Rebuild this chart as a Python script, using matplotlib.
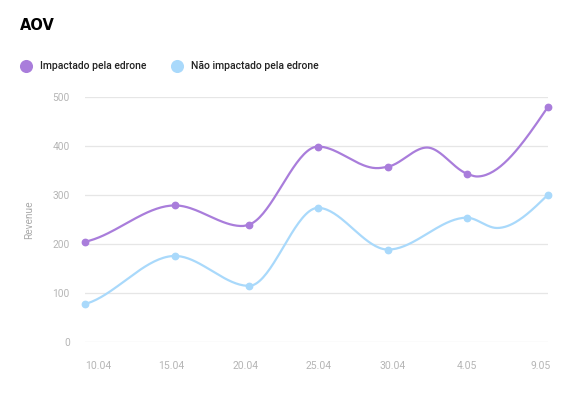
"""AOV — impactado vs. não impactado pela edrone (linhas suavizadas)."""
import matplotlib
matplotlib.use("Agg")
import matplotlib.pyplot as plt
import numpy as np
from matplotlib.lines import Line2D

# Posição dos marcadores no eixo (unidades de rótulo) e valores
posicoes = [-0.176, 1.045, 2.049, 2.985, 3.935, 5.003, 6.106]
impactado = [205, 279, 240, 399, 358, 344, 480]
nao_impactado = [78, 176, 115, 274, 189, 254, 301]

# Pontos de apoio da curva (extremos sem marcador)
apoio_imp_pos = [1.954, 3.786, 4.464, 5.143]
apoio_imp_val = [237, 355, 397, 338]
apoio_nao_pos = [5.414]
apoio_nao_val = [233]

rotulos_x = ["10.04", "15.04", "20.04", "25.04", "30.04", "4.05", "9.05"]
ticks_y = [0, 100, 200, 300, 400, 500]

ROXO = "#a97ddb"
AZUL = "#a9d9fb"
CINZA_TXT = "#b5b5b5"

plt.rcParams["font.family"] = ["Roboto", "DejaVu Sans"]


def suave(xs, ys, n=40):
    """Hermite cúbica monótona (Fritsch-Carlson) com extremos suaves."""
    ordem = np.argsort(xs)
    x = np.asarray(xs, float)[ordem]
    y = np.asarray(ys, float)[ordem]
    h = np.diff(x)
    d = np.diff(y) / h
    m = np.zeros_like(y)
    for i in range(1, len(y) - 1):
        if d[i - 1] * d[i] > 0:
            w1, w2 = 2 * h[i] + h[i - 1], h[i] + 2 * h[i - 1]
            m[i] = (w1 + w2) / (w1 / d[i - 1] + w2 / d[i])
    m[0] = 0.5 * d[0]
    m[-1] = (3 * d[-1] - m[-2]) / 2
    px, py = [], []
    t = np.linspace(0, 1, n)
    for i in range(len(h)):
        h00 = 2 * t**3 - 3 * t**2 + 1
        h10 = t**3 - 2 * t**2 + t
        h01 = -2 * t**3 + 3 * t**2
        h11 = t**3 - t**2
        px.append(x[i] + t * h[i])
        py.append(h00 * y[i] + h10 * h[i] * m[i] + h01 * y[i + 1] + h11 * h[i] * m[i + 1])
    return np.concatenate(px), np.concatenate(py)


fig = plt.figure(figsize=(5.73, 3.98), dpi=100)
ax = fig.add_axes([85 / 573, 1 - 342.3 / 398, 463 / 573, 245.3 / 398])

series = [
    (nao_impactado, apoio_nao_pos, apoio_nao_val, AZUL),
    (impactado, apoio_imp_pos, apoio_imp_val, ROXO),
]
for ys, ap_x, ap_y, cor in series:
    cx, cy = suave(posicoes + ap_x, ys + ap_y)
    ax.plot(cx, cy, color=cor, lw=1.6, solid_capstyle="round", clip_on=False, zorder=3)
    ax.plot(posicoes, ys, "o", color=cor, ms=4.6, clip_on=False, zorder=4)

ax.set_xlim(posicoes[0], posicoes[-1])
ax.set_ylim(0, 500)
ax.set_yticks(ticks_y)
ax.set_xticks(range(len(rotulos_x)))
ax.set_xticklabels(rotulos_x)
ax.grid(axis="y", color="#e6e6e6", lw=0.9)
ax.set_axisbelow(True)
for s in ax.spines.values():
    s.set_visible(False)
ax.tick_params(length=0, colors=CINZA_TXT, labelsize=7.3)
ax.tick_params(axis="x", labelsize=7.5, pad=13.5)
ax.tick_params(axis="y", pad=11)
ax.set_ylabel("Revenue", color="#aaaaaa", fontsize=7.3, labelpad=13.5)

fig.text(20 / 573, 1 - 25 / 398, "AOV", fontsize=10.5, fontweight="heavy",
         family="DejaVu Sans", va="center", ha="left")

# legenda desenhada à mão (círculo + texto)
for cx_px, tx_px, cor, txt in ((26, 40, ROXO, "Impactado pela edrone"),
                               (177, 191, AZUL, "Não impactado pela edrone")):
    fig.add_artist(Line2D([cx_px / 573], [1 - 65.7 / 398], ls="", marker="o",
                          ms=8.4, color=cor, transform=fig.transFigure))
    fig.text(tx_px / 573, 1 - 65.7 / 398, txt, fontsize=7.5, fontweight="medium",
             color="#222222", va="center", ha="left")

fig.savefig("out.png", dpi=100)
